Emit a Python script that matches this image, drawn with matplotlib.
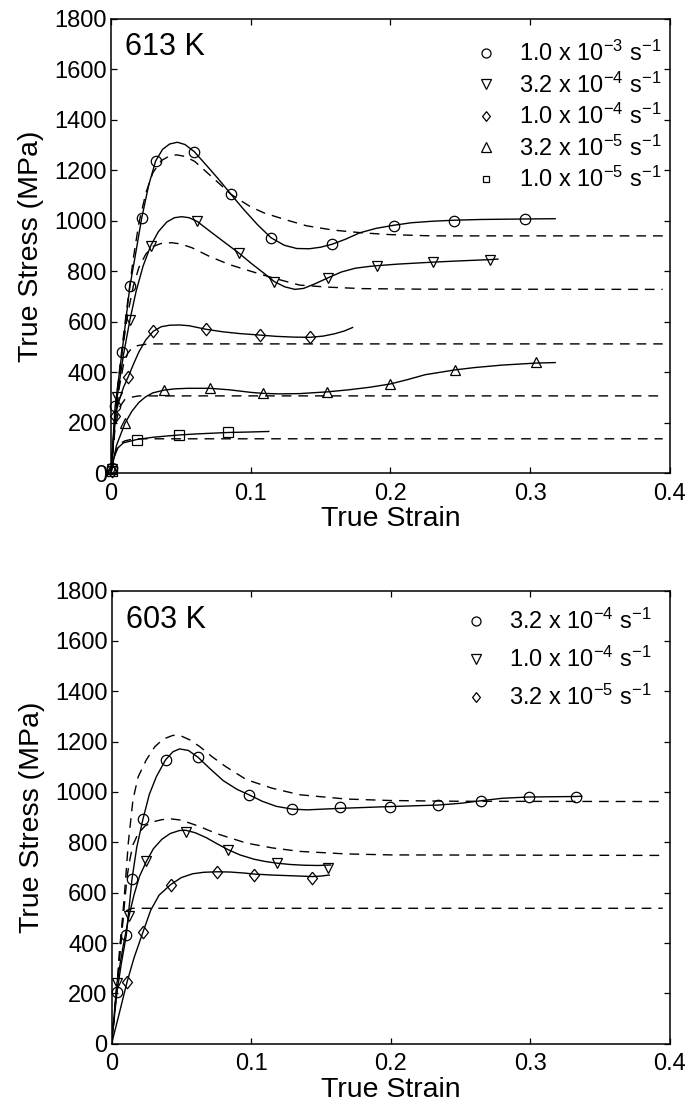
import matplotlib
matplotlib.use("Agg")
import matplotlib.pyplot as plt
from matplotlib.lines import Line2D
from matplotlib.ticker import FuncFormatter

plt.rcParams['font.family'] = ['Liberation Sans', 'DejaVu Sans']
plt.rcParams['mathtext.fontset'] = 'custom'
plt.rcParams['mathtext.rm'] = 'Liberation Sans'
plt.rcParams['mathtext.it'] = 'Liberation Sans:italic'

# ---------------- 613 K ----------------
labels_613 = [r'1.0 x 10$^{-3}$ s$^{-1}$', r'3.2 x 10$^{-4}$ s$^{-1}$',
              r'1.0 x 10$^{-4}$ s$^{-1}$', r'3.2 x 10$^{-5}$ s$^{-1}$',
              r'1.0 x 10$^{-5}$ s$^{-1}$']

# 1.0e-3
a1_mk_e = [0.0005, 0.003, 0.0079, 0.0136, 0.022, 0.032, 0.0596, 0.0859, 0.1145, 0.1584, 0.2024, 0.2453, 0.2965]
a1_mk_s = [20, 264, 478, 741, 1010, 1237, 1274, 1105, 933, 907, 980, 998, 1007]
a1_fit_e = [0, 0.003, 0.0079, 0.0136, 0.018, 0.022, 0.027, 0.032, 0.037, 0.042, 0.0475, 0.053, 0.0596,
            0.068, 0.077, 0.0859, 0.095, 0.105, 0.1145, 0.124, 0.133, 0.142, 0.150, 0.1584, 0.168,
            0.178, 0.190, 0.2024, 0.215, 0.230, 0.2453, 0.265, 0.2965, 0.318]
a1_fit_s = [0, 264, 478, 741, 880, 1010, 1140, 1237, 1283, 1304, 1311, 1302, 1274, 1222, 1165, 1105,
            1045, 984, 933, 903, 890, 889, 895, 907, 927, 952, 970, 982, 992, 998, 1002, 1005, 1007, 1008]
a1_mod_e = [0, 0.004, 0.008, 0.012, 0.016, 0.020, 0.025, 0.030, 0.036, 0.042, 0.047, 0.053, 0.060,
            0.068, 0.077, 0.0859, 0.0923, 0.100, 0.110, 0.1257, 0.140, 0.159, 0.180, 0.200, 0.230, 0.395]
a1_mod_s = [0, 300, 500, 680, 850, 990, 1110, 1190, 1238, 1257, 1261, 1255, 1235, 1195, 1150, 1105,
            1082, 1055, 1030, 1003, 980, 963, 952, 945, 940, 940]

# 3.2e-4
a2_mk_e = [0.0005, 0.0045, 0.0136, 0.0284, 0.0618, 0.0918, 0.1169, 0.1555, 0.1907, 0.2306, 0.2714]
a2_mk_s = [15, 303, 607, 900, 997, 871, 759, 774, 822, 836, 846]
a2_fit_e = [0, 0.0045, 0.009, 0.0136, 0.018, 0.023, 0.0284, 0.034, 0.040, 0.0455, 0.0506, 0.056,
            0.0618, 0.070, 0.080, 0.0918, 0.100, 0.110, 0.1169, 0.1245, 0.1317, 0.138, 0.146, 0.1555,
            0.165, 0.175, 0.185, 0.1907, 0.205, 0.2306, 0.250, 0.2714, 0.277]
a2_fit_s = [0, 303, 470, 607, 720, 820, 900, 957, 995, 1012, 1016, 1012, 997, 962, 920, 871, 833, 790,
            759, 738, 728, 732, 750, 774, 797, 812, 819, 822, 828, 836, 841, 846, 848]
a2_mod_e = [0, 0.004, 0.008, 0.012, 0.016, 0.020, 0.025, 0.030, 0.036, 0.0434, 0.050, 0.058, 0.0708,
            0.085, 0.0995, 0.115, 0.135, 0.155, 0.180, 0.220, 0.395]
a2_mod_s = [0, 280, 480, 630, 740, 815, 868, 898, 910, 913, 908, 893, 858, 826, 801, 775, 745, 737,
            731, 729, 728]

# 1.0e-4
a3_mk_e = [0.0005, 0.0029, 0.0124, 0.0303, 0.068, 0.1066, 0.1424]
a3_mk_s = [10, 225, 382, 562, 570, 547, 538]
a3_fit_e = [0, 0.0029, 0.006, 0.009, 0.0124, 0.016, 0.020, 0.025, 0.0303, 0.036, 0.042, 0.049, 0.056,
            0.068, 0.080, 0.092, 0.1066, 0.118, 0.130, 0.1424, 0.152, 0.160, 0.167, 0.173]
a3_fit_s = [0, 225, 290, 340, 382, 430, 480, 528, 562, 580, 586, 587, 584, 570, 560, 553, 547, 542,
            539, 538, 543, 552, 563, 577]
a3_mod_e = [0, 0.003, 0.006, 0.009, 0.012, 0.0148, 0.019, 0.024, 0.030, 0.395]
a3_mod_s = [0, 200, 340, 430, 475, 494, 505, 510, 512, 512]

# 3.2e-5
a4_mk_e = [0.0005, 0.010, 0.0382, 0.0708, 0.109, 0.155, 0.1998, 0.2463, 0.3043]
a4_mk_s = [15, 197, 329, 338, 316, 322, 353, 409, 440]
a4_fit_e = [0, 0.004, 0.010, 0.015, 0.020, 0.025, 0.030, 0.0382, 0.046, 0.055, 0.0708, 0.085, 0.100,
            0.109, 0.120, 0.135, 0.155, 0.170, 0.185, 0.1998, 0.212, 0.225, 0.2463, 0.260, 0.280,
            0.3043, 0.318]
a4_fit_s = [0, 110, 197, 245, 280, 303, 318, 329, 334, 336, 336, 330, 320, 316, 314, 315, 322, 330,
            340, 353, 370, 390, 409, 418, 428, 436, 438]
a4_mod_e = [0, 0.003, 0.006, 0.010, 0.0158, 0.020, 0.395]
a4_mod_s = [0, 180, 260, 292, 302, 306, 306]

# 1.0e-5
a5_mk_e = [0.0005, 0.0184, 0.0487, 0.0839]
a5_mk_s = [10, 131, 151, 161]
a5_fit_e = [0, 0.002, 0.005, 0.009, 0.0184, 0.030, 0.040, 0.0487, 0.060, 0.072, 0.0839, 0.100, 0.113]
a5_fit_s = [0, 60, 100, 120, 133, 142, 147, 151, 155, 158, 161, 163, 165]
a5_mod_e = [0, 0.003, 0.006, 0.010, 0.015, 0.020, 0.395]
a5_mod_s = [0, 80, 115, 128, 134, 136, 136]

# ---------------- 603 K ----------------
labels_603 = [r'3.2 x 10$^{-4}$ s$^{-1}$', r'1.0 x 10$^{-4}$ s$^{-1}$', r'3.2 x 10$^{-5}$ s$^{-1}$']

b1_mk_e = [0.0038, 0.0105, 0.0146, 0.0225, 0.0387, 0.0619, 0.0984, 0.1293, 0.164, 0.1992, 0.2337,
           0.2645, 0.299, 0.3325]
b1_mk_s = [204, 430, 654, 893, 1128, 1138, 989, 932, 939, 942, 948, 965, 979, 982]
b1_fit_e = [0, 0.0038, 0.007, 0.0105, 0.0146, 0.018, 0.0225, 0.027, 0.032, 0.0387, 0.044, 0.0487,
            0.055, 0.0619, 0.070, 0.080, 0.090, 0.0984, 0.108, 0.118, 0.1293, 0.140, 0.164, 0.1992,
            0.2337, 0.250, 0.2645, 0.280, 0.299, 0.3325, 0.337]
b1_fit_s = [0, 204, 320, 430, 654, 780, 893, 990, 1060, 1128, 1160, 1171, 1165, 1138, 1095, 1045,
            1010, 989, 963, 943, 932, 929, 935, 942, 948, 955, 965, 975, 980, 982, 983]
b1_mod_e = [0, 0.0045, 0.0057, 0.0075, 0.0093, 0.012, 0.0153, 0.019, 0.0249, 0.031, 0.037, 0.044,
            0.050, 0.056, 0.063, 0.072, 0.082, 0.0966, 0.115, 0.1348, 0.168, 0.200, 0.250, 0.395]
b1_mod_s = [0, 267, 373, 480, 600, 800, 969, 1060, 1128, 1180, 1210, 1225, 1222, 1207, 1181, 1140,
            1100, 1049, 1015, 989, 972, 966, 963, 962]

b2_mk_e = [0.0038, 0.0124, 0.0249, 0.053, 0.0834, 0.1188, 0.155]
b2_mk_s = [241, 506, 724, 840, 771, 718, 698]
b2_fit_e = [0, 0.0038, 0.008, 0.0124, 0.016, 0.020, 0.0249, 0.030, 0.036, 0.042, 0.0487, 0.053,
            0.060, 0.068, 0.076, 0.0834, 0.092, 0.102, 0.110, 0.1188, 0.128, 0.138, 0.148, 0.157]
b2_fit_s = [0, 241, 380, 506, 590, 665, 724, 775, 812, 835, 847, 848, 838, 818, 793, 771, 750, 733,
            724, 717, 712, 709, 708, 710]
b2_mod_e = [0, 0.0045, 0.007, 0.0093, 0.011, 0.013, 0.0153, 0.019, 0.024, 0.030, 0.036, 0.0428,
            0.050, 0.063, 0.075, 0.0966, 0.115, 0.1348, 0.168, 0.200, 0.395]
b2_mod_s = [0, 267, 420, 560, 660, 730, 790, 835, 865, 882, 890, 893, 888, 863, 835, 797, 778, 764,
            754, 750, 748]

b3_mk_e = [0.011, 0.0225, 0.0423, 0.0755, 0.102, 0.1439]
b3_mk_s = [244, 444, 632, 681, 671, 658]
b3_fit_e = [0, 0.005, 0.011, 0.016, 0.0225, 0.028, 0.034, 0.0423, 0.050, 0.058, 0.066, 0.0755,
            0.085, 0.095, 0.102, 0.115, 0.130, 0.1439, 0.150, 0.156]
b3_fit_s = [0, 110, 244, 340, 444, 530, 590, 632, 660, 675, 681, 683, 682, 678, 674, 670, 667, 664,
            666, 670]
b3_mod_e = [0, 0.0045, 0.006, 0.0081, 0.011, 0.015, 0.395]
b3_mod_s = [0, 260, 380, 500, 530, 538, 538]

# open diamond a bit narrower than it is tall, like the scanned figure
DIAMOND = [(0, 1), (0.8, 0), (0, -1), (-0.8, 0), (0, 1)]
markers_613 = ['o', 'v', DIAMOND, '^', 's']
markers_603 = ['o', 'v', DIAMOND]

series_613 = [
    (a1_mk_e, a1_mk_s, a1_fit_e, a1_fit_s, a1_mod_e, a1_mod_s),
    (a2_mk_e, a2_mk_s, a2_fit_e, a2_fit_s, a2_mod_e, a2_mod_s),
    (a3_mk_e, a3_mk_s, a3_fit_e, a3_fit_s, a3_mod_e, a3_mod_s),
    (a4_mk_e, a4_mk_s, a4_fit_e, a4_fit_s, a4_mod_e, a4_mod_s),
    (a5_mk_e, a5_mk_s, a5_fit_e, a5_fit_s, a5_mod_e, a5_mod_s),
]
series_603 = [
    (b1_mk_e, b1_mk_s, b1_fit_e, b1_fit_s, b1_mod_e, b1_mod_s),
    (b2_mk_e, b2_mk_s, b2_fit_e, b2_fit_s, b2_mod_e, b2_mod_s),
    (b3_mk_e, b3_mk_s, b3_fit_e, b3_fit_s, b3_mod_e, b3_mod_s),
]


def fmt_strain(v, pos):
    return '0' if abs(v) < 1e-9 else f'{v:g}'


def marker_size(m, big=True):
    if m == 's':
        return 6.5 if big else 5.0
    if isinstance(m, list):
        return 9.0 if big else 7.0
    return 7.5 if big else 6.5


def draw_panel(ax, series, markers, labels, temp, temp_y, leg_anchor, leg_spacing):
    for (mk_e, mk_s, fit_e, fit_s, mod_e, mod_s), m in zip(series, markers):
        ax.plot(mod_e, mod_s, color='k', lw=1.0, dashes=(7, 5))
        ax.plot(fit_e, fit_s, color='k', lw=1.0)
        ax.plot(mk_e, mk_s, ls='none', marker=m, ms=marker_size(m),
                mfc='none', mec='k', mew=0.9, clip_on=False)

    ax.set_xlim(0, 0.4)
    ax.set_ylim(0, 1800)
    ax.set_xticks([0, 0.1, 0.2, 0.3, 0.4])
    ax.set_yticks(range(0, 1801, 200))
    ax.xaxis.set_major_formatter(FuncFormatter(fmt_strain))
    ax.tick_params(direction='in', length=4, width=0.9, top=True, right=True,
                   labelsize=17)
    ax.tick_params(axis='x', pad=7)
    ax.tick_params(axis='y', pad=3)
    for sp in ax.spines.values():
        sp.set_linewidth(1.1)
    ax.set_xlabel('True Strain', fontsize=20.5, labelpad=1)
    ax.set_ylabel('True Stress (MPa)', fontsize=20.5, labelpad=7)
    ax.text(0.025, temp_y, temp, transform=ax.transAxes, fontsize=22, va='baseline')

    handles = [Line2D([], [], ls='none', marker=m, ms=marker_size(m, big=False),
                      mfc='none', mec='k', mew=0.9) for m in markers]
    ax.legend(handles, labels, loc='upper right', bbox_to_anchor=leg_anchor,
              frameon=False, fontsize=17, handlelength=1.0, handletextpad=0.9,
              labelspacing=leg_spacing, borderaxespad=0, borderpad=0)


fig = plt.figure(figsize=(6.89, 11.08), dpi=100)
ax1 = fig.add_axes([0.161, 0.573, 0.811, 0.410])
ax2 = fig.add_axes([0.162, 0.058, 0.810, 0.409])

draw_panel(ax1, series_613, markers_613, labels_613, '613 K', 0.921, (0.985, 0.952), 0.27)
draw_panel(ax2, series_603, markers_603, labels_603, '603 K', 0.918, (0.968, 0.96), 0.55)

fig.savefig('out.png', dpi=100)
